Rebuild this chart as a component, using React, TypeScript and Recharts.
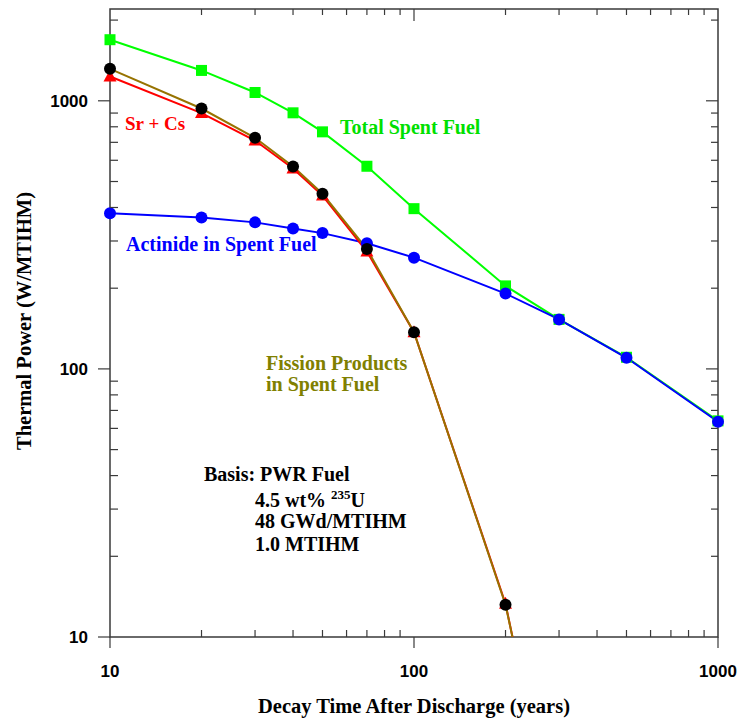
import React from 'react';
import { LineChart, Line, XAxis, YAxis, ReferenceArea } from 'recharts';

const years = [10, 20, 30, 40, 50, 70, 100, 200, 300, 500, 1000];
const totalSpentFuel = [1690, 1298, 1074, 902, 766, 570, 396, 204, 153, 110.5, 64];
const actinide = [381, 367, 352, 334, 321, 294, 260, 191, 153, 110, 63.5];
const srCs = [1232, 900, 711, 559, 443, 274, 137, 13.3, 1.5, null, null];
const fissionProducts = [1316, 936, 728, 569, 450, 280, 137, 13.2, 1.55, null, null];

const xMajorTicks = [10, 100, 1000];
const xMinorTicks = [20, 30, 40, 50, 60, 70, 80, 90, 200, 300, 400, 500, 600, 700, 800, 900];
const yMajorTicks = [10, 100, 1000];
const yMinorTicks = [20, 30, 40, 50, 60, 70, 80, 90, 200, 300, 400, 500, 600, 700, 800, 900, 2000];

const X_DOMAIN = [10, 1000];
const Y_DOMAIN = [10, 2200];

const data = years.map((year, i) => ({
  year,
  total: totalSpentFuel[i],
  actinide: actinide[i],
  srCs: srCs[i],
  fission: fissionProducts[i],
  srCsMark: srCs[i] != null && (srCs[i] as number) >= 10 ? srCs[i] : null,
  fissionMark: fissionProducts[i] != null && (fissionProducts[i] as number) >= 10 ? fissionProducts[i] : null,
}));

const GREEN = '#00ff00';
const BLUE = '#0000ff';
const RED = '#ff0000';
const OLIVE_LINE = '#977300';
const OLIVE_TEXT = '#808000';
const AXIS = '#3a3a3a';

// layout (page margin removed, so chart coords == page coords)
const CHART_W = 739;
const CHART_H = 720;
const MARGIN = { top: 9, right: 21, bottom: 0, left: 0 };
const Y_AXIS_W = 110;
const PLOT_H = 628;
const X_AXIS_H = CHART_H - MARGIN.top - MARGIN.bottom - PLOT_H;
const PL = MARGIN.left + Y_AXIS_W;
const PR = CHART_W - MARGIN.right;
const PT = MARGIN.top;
const PB = PT + PLOT_H;

const serif = '"Liberation Serif", "Times New Roman", serif';
const sans = '"Liberation Sans", Arial, sans-serif';

const XTick = (props: any) => {
  const { x, payload } = props;
  const v = payload?.value;
  const major = xMajorTicks.includes(v);
  return (
    <g>
      {major ? (
        <line x1={x} x2={x} y1={PB} y2={PB + 11} stroke={AXIS} strokeWidth={1.2} />
      ) : (
        <line x1={x} x2={x} y1={PB} y2={PB - 7} stroke={AXIS} strokeWidth={1.2} />
      )}
      {v === 100 ? (
        <line x1={x} x2={x} y1={PT} y2={PT + 12} stroke={AXIS} strokeWidth={1.2} />
      ) : !major ? (
        <line x1={x} x2={x} y1={PT} y2={PT + 6} stroke={AXIS} strokeWidth={1.2} />
      ) : null}
      {major && (
        <text
          x={x}
          y={PB + 40}
          textAnchor="middle"
          fontFamily={sans}
          fontWeight="bold"
          fontSize={17}
          fill="#000"
        >
          {String(v)}
        </text>
      )}
    </g>
  );
};

const YTick = (props: any) => {
  const { y, payload } = props;
  const v = payload?.value;
  const major = yMajorTicks.includes(v);
  return (
    <g>
      {major ? (
        <line x1={PL - 12} x2={PL} y1={y} y2={y} stroke={AXIS} strokeWidth={1.2} />
      ) : (
        <line x1={PL} x2={PL + 8} y1={y} y2={y} stroke={AXIS} strokeWidth={1.2} />
      )}
      {major ? (
        v !== 10 && <line x1={PR - 12} x2={PR} y1={y} y2={y} stroke={AXIS} strokeWidth={1.2} />
      ) : (
        <line x1={PR - 7} x2={PR} y1={y} y2={y} stroke={AXIS} strokeWidth={1.2} />
      )}
      {major && (
        <text
          x={PL - 22}
          y={y}
          dy="0.36em"
          textAnchor="end"
          fontFamily={sans}
          fontWeight="bold"
          fontSize={17}
          fill="#000"
        >
          {String(v)}
        </text>
      )}
    </g>
  );
};

const SquareDot = (props: any) => {
  const { cx, cy, index } = props;
  if (cx == null || cy == null || Number.isNaN(cy)) return <g key={`sq-${index}`} />;
  return <rect key={`sq-${index}`} x={cx - 5.5} y={cy - 5.5} width={11} height={11} fill={GREEN} />;
};

const TriangleDot = (props: any) => {
  const { cx, cy, index } = props;
  if (cx == null || cy == null || Number.isNaN(cy)) return <g key={`tr-${index}`} />;
  return (
    <polygon
      key={`tr-${index}`}
      points={`${cx},${cy - 7} ${cx - 6.5},${cy + 5} ${cx + 6.5},${cy + 5}`}
      fill={RED}
    />
  );
};

export default function App() {
  return (
    <div style={{ position: 'relative', width: CHART_W, height: CHART_H, background: '#fff' }}>
      <style>{'html,body{margin:0;padding:0;overflow:hidden;background:#fff}'}</style>
      <LineChart width={CHART_W} height={CHART_H} data={data} margin={MARGIN}>
        <XAxis
          xAxisId="xb"
          dataKey="year"
          type="number"
          scale="log"
          domain={X_DOMAIN}
          ticks={[...xMajorTicks, ...xMinorTicks]}
          interval={0}
          height={X_AXIS_H}
          tickLine={false}
          axisLine={false}
          tick={XTick}
        />
        <YAxis
          yAxisId="yl"
          type="number"
          scale="log"
          domain={Y_DOMAIN}
          ticks={[...yMajorTicks, ...yMinorTicks]}
          interval={0}
          width={Y_AXIS_W}
          tickLine={false}
          axisLine={false}
          tick={YTick}
        />
        <YAxis
          yAxisId="yc"
          type="number"
          scale="log"
          domain={Y_DOMAIN}
          allowDataOverflow
          hide
          width={0}
        />

        <ReferenceArea
          xAxisId="xb"
          yAxisId="yl"
          x1={X_DOMAIN[0]}
          x2={X_DOMAIN[1]}
          y1={Y_DOMAIN[0]}
          y2={Y_DOMAIN[1]}
          fill="none"
          fillOpacity={0}
          stroke={AXIS}
          strokeWidth={1.5}
        />

        <Line
          xAxisId="xb"
          yAxisId="yl"
          dataKey="total"
          stroke={GREEN}
          strokeWidth={2}
          dot={SquareDot}
          activeDot={false}
          isAnimationActive={false}
        />
        <Line
          xAxisId="xb"
          yAxisId="yl"
          dataKey="actinide"
          stroke={BLUE}
          strokeWidth={2}
          dot={{ r: 6, fill: BLUE, stroke: BLUE, strokeWidth: 0 }}
          activeDot={false}
          isAnimationActive={false}
        />
        <Line
          xAxisId="xb"
          yAxisId="yc"
          dataKey="srCs"
          stroke={RED}
          strokeWidth={2}
          dot={false}
          activeDot={false}
          isAnimationActive={false}
        />
        <Line
          xAxisId="xb"
          yAxisId="yl"
          dataKey="srCsMark"
          stroke="none"
          dot={TriangleDot}
          activeDot={false}
          isAnimationActive={false}
        />
        <Line
          xAxisId="xb"
          yAxisId="yc"
          dataKey="fission"
          stroke={OLIVE_LINE}
          strokeWidth={2}
          dot={false}
          activeDot={false}
          isAnimationActive={false}
        />
        <Line
          xAxisId="xb"
          yAxisId="yl"
          dataKey="fissionMark"
          stroke="none"
          dot={{ r: 6, fill: '#000', stroke: '#000', strokeWidth: 0 }}
          activeDot={false}
          isAnimationActive={false}
        />
      </LineChart>

      <svg
        width={CHART_W}
        height={CHART_H}
        style={{ position: 'absolute', left: 0, top: 0, pointerEvents: 'none' }}
      >
        <g fontFamily={serif} fontWeight="bold">
          <text x={125} y={130} fontSize={19} fill={RED}>Sr + Cs</text>
          <text x={340} y={134} fontSize={20} fill="#00e000">Total Spent Fuel</text>
          <text x={126} y={251} fontSize={20} fill={BLUE}>Actinide in Spent Fuel</text>
          <text x={266} y={370} fontSize={20} fill={OLIVE_TEXT}>Fission Products</text>
          <text x={266} y={391} fontSize={20} fill={OLIVE_TEXT}>in Spent Fuel</text>
          <text x={204} y={481} fontSize={20} fill="#000">Basis: PWR Fuel</text>
          <text x={255} y={507} fontSize={20} fill="#000">
            4.5 wt%{' '}
            <tspan fontSize={13} dy={-8}>235</tspan>
            <tspan dy={8}>U</tspan>
          </text>
          <text x={255} y={528} fontSize={20} fill="#000">48 GWd/MTIHM</text>
          <text x={255} y={551} fontSize={20} fill="#000">1.0 MTIHM</text>
          <text x={414} y={713} fontSize={20.5} fill="#000" textAnchor="middle">
            Decay Time After Discharge (years)
          </text>
          <text
            x={0}
            y={0}
            fontSize={20.5}
            fill="#000"
            textAnchor="middle"
            transform="translate(31, 321) rotate(-90)"
          >
            Thermal Power (W/MTIHM)
          </text>
        </g>
      </svg>
    </div>
  );
}
